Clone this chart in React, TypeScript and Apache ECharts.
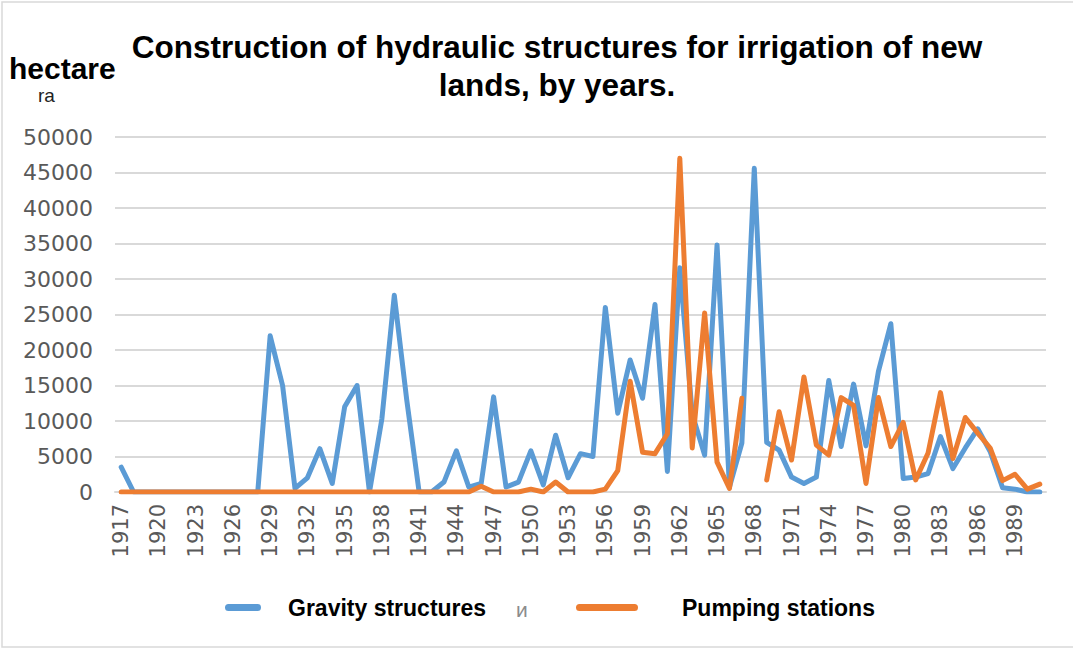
import React, { useEffect, useRef } from "react";
import * as echarts from "echarts";

const years = [
  "1917","1918","1919","1920","1921","1922","1923","1924","1925","1926",
  "1927","1928","1929","1930","1931","1932","1933","1934","1935","1936",
  "1937","1938","1939","1940","1941","1942","1943","1944","1945","1946",
  "1947","1948","1949","1950","1951","1952","1953","1954","1955","1956",
  "1957","1958","1959","1960","1961","1962","1963","1964","1965","1966",
  "1967","1968","1969","1970","1971","1972","1973","1974","1975","1976",
  "1977","1978","1979","1980","1981","1982","1983","1984","1985","1986",
  "1987","1988","1989","1990","1991",
];

const gravity = [
  3500, 0, 0, 0, 0, 0, 0, 0, 0, 0,
  0, 0, 22000, 15000, 500, 2000, 6100, 1200, 12000, 15000,
  0, 10300, 27700, 13000, 0, 0, 1400, 5800, 700, 1200,
  13400, 700, 1400, 5800, 1000, 8000, 2000, 5400, 5000, 26000,
  11100, 18600, 13200, 26400, 2900, 31600, 11000, 5200, 34800, 700,
  6900, 45600, 7000, 5900, 2100, 1200, 2100, 15700, 6400, 15200,
  6500, 17000, 23700, 1900, 2100, 2600, 7800, 3300, 6200, 8900,
  5700, 600, 400, 0, 0,
];

const pumping = [
  0, 0, 0, 0, 0, 0, 0, 0, 0, 0,
  0, 0, 0, 0, 0, 0, 0, 0, 0, 0,
  0, 0, 0, 0, 0, 0, 0, 0, 0, 800,
  0, 0, 0, 400, 0, 1400, 0, 0, 0, 400,
  3000, 15600, 5600, 5400, 8200, 47000, 6200, 25200, 4200, 500,
  13200, null, 1700, 11300, 4500, 16200, 6600, 5200, 13300, 12200,
  1200, 13300, 6400, 9800, 1700, 5500, 14000, 4700, 10500, 8300,
  6200, 1600, 2500, 400, 1100,
];

const titleLines = "Construction of hydraulic structures for irrigation of new\nlands, by years.";
const seriesNames = ["Gravity structures", "Pumping stations"];
const seriesColors = ["#5b9bd5", "#ed7d31"];

export default function App() {
  const ref = useRef<HTMLDivElement>(null);
  useEffect(() => {
    document.body.style.margin = "0";
    const chart = echarts.init(ref.current!, null, { renderer: "svg" });
    const legendFont = {
      fontFamily: "Liberation Sans",
      fontWeight: "bold" as const,
      fontSize: 23,
      fill: "#000000",
      textVerticalAlign: "middle" as const,
    };
    chart.setOption({
      animation: false,
      backgroundColor: "#ffffff",
      grid: { left: 115, right: 27, top: 137, bottom: 158 },
      xAxis: {
        type: "category",
        data: years,
        boundaryGap: true,
        axisLine: { lineStyle: { color: "#d9d9d9", width: 2 } },
        axisTick: { show: false },
        axisLabel: {
          interval: 2,
          rotate: 90,
          margin: 12,
          fontFamily: "DejaVu Sans",
          fontSize: 21,
          color: "#595959",
        },
      },
      yAxis: {
        type: "value",
        min: 0,
        max: 50000,
        interval: 5000,
        axisLine: { show: false },
        axisTick: { show: false },
        splitLine: { lineStyle: { color: "#d9d9d9", width: 2 } },
        axisLabel: {
          margin: 22,
          fontFamily: "DejaVu Sans",
          fontSize: 22,
          color: "#595959",
          formatter: (v: number) => String(v),
        },
      },
      series: [
        {
          name: seriesNames[0],
          type: "line",
          data: gravity,
          symbol: "none",
          lineStyle: { color: seriesColors[0], width: 5, join: "round", cap: "round" },
          itemStyle: { color: seriesColors[0] },
        },
        {
          name: seriesNames[1],
          type: "line",
          data: pumping,
          symbol: "none",
          connectNulls: false,
          lineStyle: { color: seriesColors[1], width: 5, join: "round", cap: "round" },
          itemStyle: { color: seriesColors[1] },
        },
      ],
      graphic: [
        {
          type: "rect",
          shape: { x: 2, y: 2, width: 1090, height: 645 },
          style: { fill: "none", stroke: "#d9d9d9", lineWidth: 1.5 },
          silent: true,
        },
        {
          type: "text",
          x: 557,
          y: 28,
          style: {
            text: titleLines,
            textAlign: "center",
            fontFamily: "Liberation Sans",
            fontWeight: "bold",
            fontSize: 31.5,
            lineHeight: 38,
            fill: "#000000",
          },
        },
        {
          type: "text",
          x: 9,
          y: 53,
          style: {
            text: "hectare",
            fontFamily: "Liberation Sans",
            fontWeight: "bold",
            fontSize: 30,
            fill: "#000000",
          },
        },
        {
          type: "text",
          x: 38,
          y: 86,
          style: {
            text: "ra",
            fontFamily: "Liberation Sans",
            fontSize: 19,
            fill: "#222222",
          },
        },
        {
          type: "rect",
          shape: { x: 225, y: 604, width: 36, height: 7, r: 3.5 },
          style: { fill: seriesColors[0] },
        },
        {
          type: "text",
          x: 288,
          y: 608,
          style: { ...legendFont, text: seriesNames[0] },
        },
        {
          type: "text",
          x: 516,
          y: 609,
          style: {
            text: "и",
            fontFamily: "Liberation Sans",
            fontSize: 21,
            fill: "#8c8c8c",
            textVerticalAlign: "middle",
          },
        },
        {
          type: "rect",
          shape: { x: 576, y: 604, width: 62, height: 7, r: 3.5 },
          style: { fill: seriesColors[1] },
        },
        {
          type: "text",
          x: 682,
          y: 608,
          style: { ...legendFont, text: seriesNames[1] },
        },
      ],
    });
    return () => chart.dispose();
  }, []);
  return <div ref={ref} style={{ width: 1073, height: 650 }} />;
}
